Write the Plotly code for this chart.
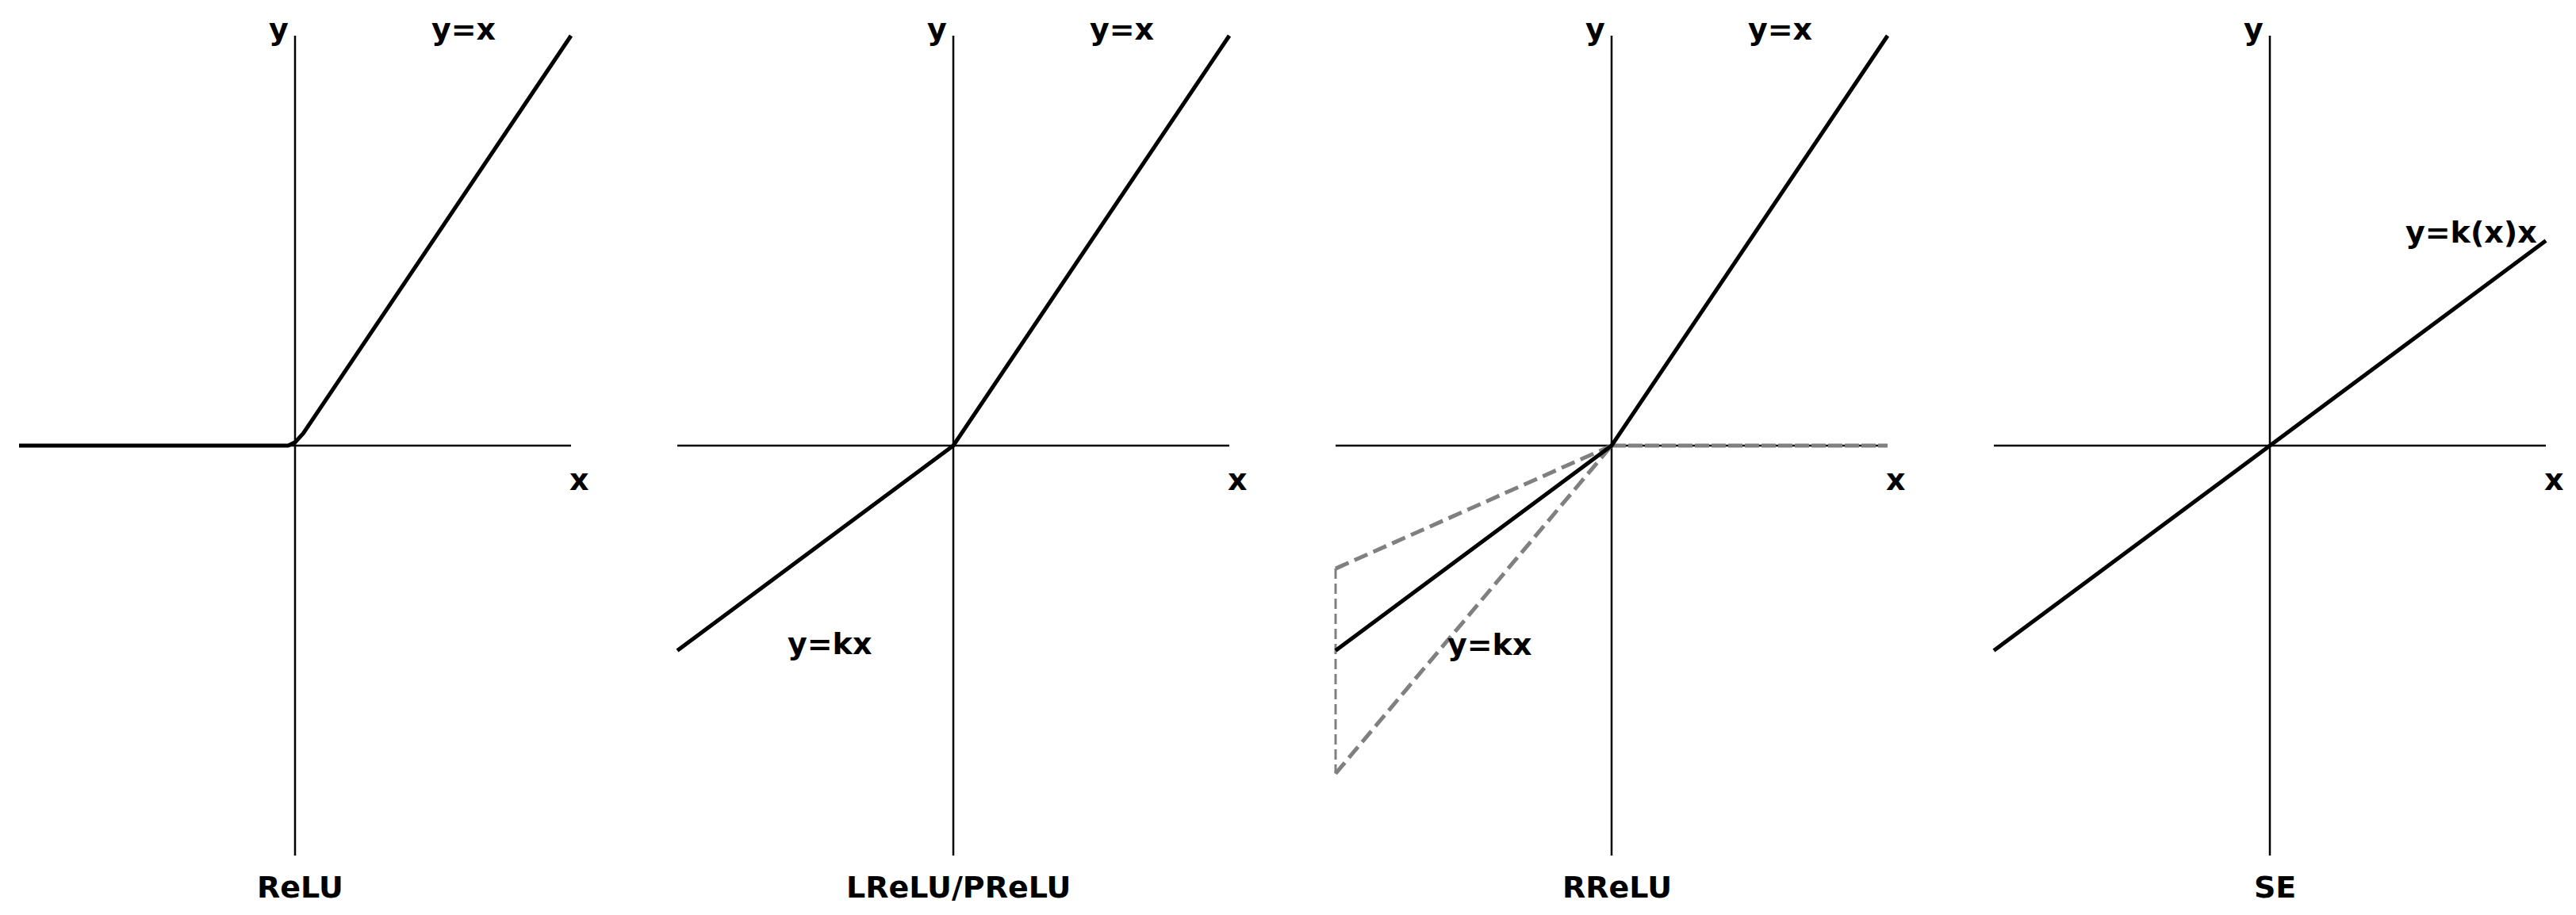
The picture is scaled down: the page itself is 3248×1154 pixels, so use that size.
import plotly.graph_objects as go

# panel titles and function curves (data units: x, y in [-1, 1])
titles = ["ReLU", "LReLU/PReLU", "RReLU", "SE"]

relu_x = [-1, -0.025, 0, 0.03, 1]
relu_y = [0, 0, 0.008, 0.03, 1]

lrelu_x = [-1, 0, 1]
lrelu_y = [-0.5, 0, 1]

rrelu_x = [-1, 0, 1]
rrelu_y = [-0.5, 0, 1]
rrelu_upper_x = [-1, 0]
rrelu_upper_y = [-0.3, 0]
rrelu_lower_x = [-1, 0]
rrelu_lower_y = [-0.8, 0]
rrelu_pos_x = [0, 1]
rrelu_pos_y = [0, 0]
rrelu_edge_x = [-1, -1]
rrelu_edge_y = [-0.3, -0.8]

se_x = [-1, 1]
se_y = [-0.5, 0.5]

axis_x = [-1, 1]
axis_y = [-1, 1]

W, H = 3248, 1154
# page body has an 8px margin, so positions are relative to the figure div
origins = [364, 1194, 2024, 2854]   # pixel x of each panel's y-axis
oy = 554                             # pixel y of the x-axes
ux, uy = 348, 517                    # pixels per data unit
xr = [-1.04, 1.1]
yr = [-(H - oy) / uy, oy / uy]

BLACK = "#000000"
GRAY = "#808080"
FONT = "DejaVu Sans"

fig = go.Figure()


def add_line(i, x, y, color=BLACK, width=5, dash="solid"):
    fig.add_trace(go.Scatter(
        x=x, y=y, mode="lines",
        line=dict(color=color, width=width, dash=dash),
        xaxis="x" if i == 0 else f"x{i+1}",
        yaxis="y" if i == 0 else f"y{i+1}",
        showlegend=False, hoverinfo="skip",
    ))


def add_text(i, x, y, text):
    fig.add_annotation(
        x=x, y=y, text=f"<b>{text}</b>", showarrow=False,
        xref="x" if i == 0 else f"x{i+1}",
        yref="y" if i == 0 else f"y{i+1}",
        font=dict(family=FONT, size=38, color=BLACK),
        xanchor="center", yanchor="middle",
    )


for i in range(4):
    # coordinate axes
    add_line(i, axis_x, [0, 0], width=2.5)
    add_line(i, [0, 0], axis_y, width=2.5)
    add_text(i, -0.06, 1.015, "y")
    add_text(i, 1.03, -0.083, "x")
    add_text(i, 0.02, -1.077, titles[i])

add_line(0, relu_x, relu_y)
add_text(0, 0.612, 1.015, "y=x")

add_line(1, lrelu_x, lrelu_y)
add_text(1, 0.612, 1.015, "y=x")
add_text(1, -0.448, -0.483, "y=kx")

add_line(2, rrelu_upper_x, rrelu_upper_y, color=GRAY, width=5, dash="18px,8px")
add_line(2, rrelu_lower_x, rrelu_lower_y, color=GRAY, width=5, dash="18px,8px")
add_line(2, rrelu_pos_x, rrelu_pos_y, color=GRAY, width=5, dash="18px,3px")
add_line(2, rrelu_edge_x, rrelu_edge_y, color=GRAY, width=3, dash="13px,6px")
add_line(2, rrelu_x, rrelu_y)
add_text(2, 0.612, 1.015, "y=x")
add_text(2, -0.443, -0.486, "y=kx")

add_line(3, se_x, se_y)
add_text(3, 0.73, 0.52, "y=k(x)x")

layout = dict(
    width=W, height=H,
    margin=dict(l=0, r=0, t=0, b=0),
    paper_bgcolor="white", plot_bgcolor="white",
    showlegend=False,
)
for i, ox in enumerate(origins):
    left = (ox + xr[0] * ux) / W
    right = (ox + xr[1] * ux) / W
    sx = "" if i == 0 else str(i + 1)
    layout[f"xaxis{sx}"] = dict(domain=[left, right], range=xr, visible=False,
                                anchor=f"y{sx}", fixedrange=True)
    layout[f"yaxis{sx}"] = dict(domain=[0, 1], range=yr, visible=False,
                                anchor=f"x{sx}", fixedrange=True)
fig.update_layout(**layout)

fig.write_html("out.html")
